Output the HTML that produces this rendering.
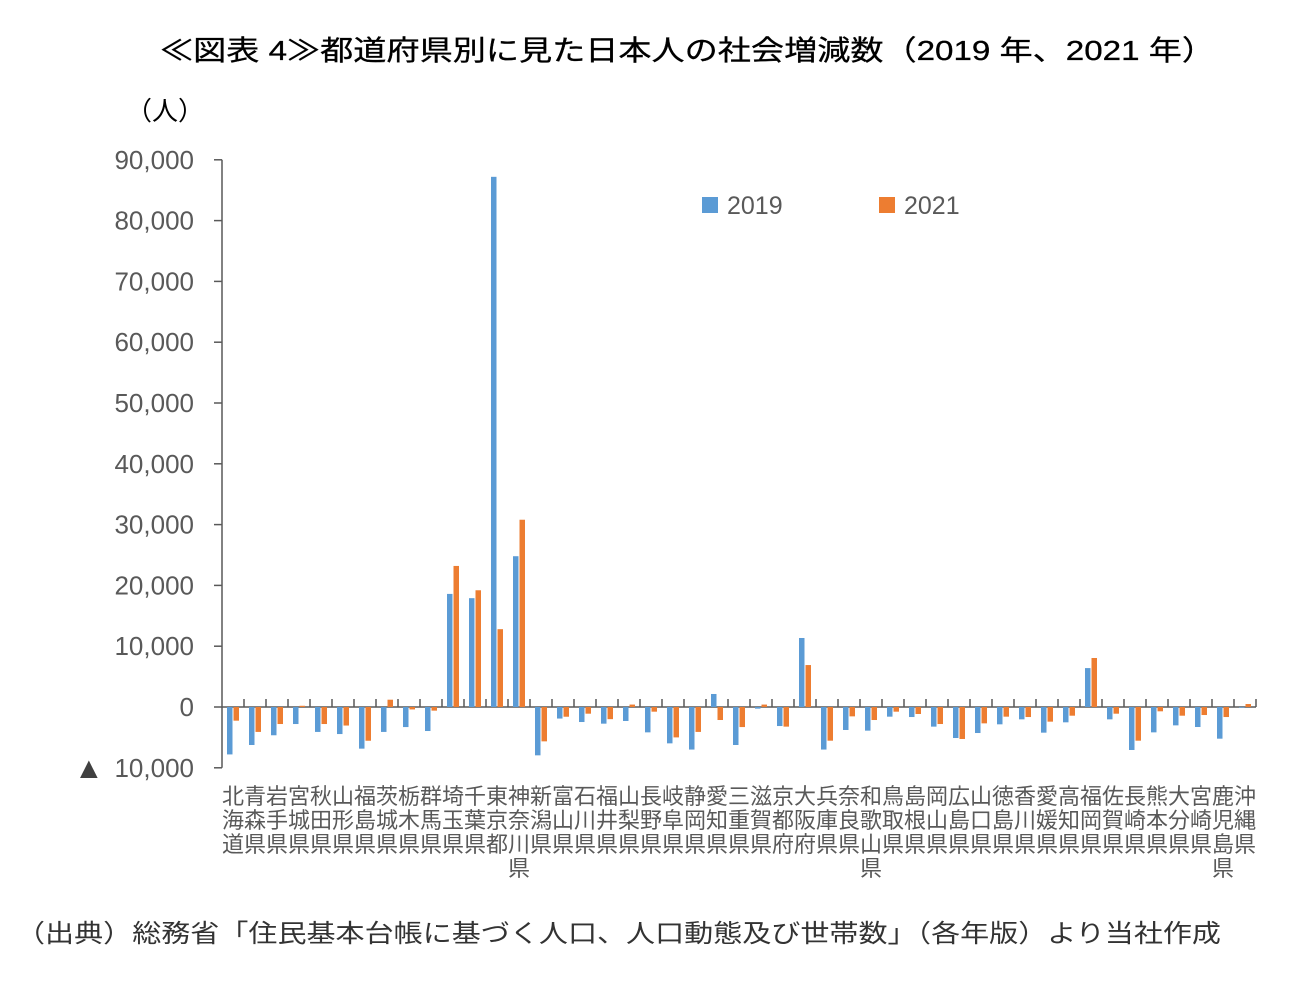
<!DOCTYPE html>
<html><head><meta charset="utf-8"><style>
body{margin:0;background:#fff;width:1296px;height:1002px;overflow:hidden}
svg{display:block;font-family:"Liberation Sans","Noto Sans CJK JP",sans-serif}
</style></head><body>
<svg id="chart" width="1296" height="1002" viewBox="0 0 1296 1002">
<text x="160" y="60" font-size="28" fill="#000" stroke="#000" stroke-width="0.3" textLength="1055" lengthAdjust="spacingAndGlyphs">≪図表 4≫都道府県別に見た日本人の社会増減数（2019 年、2021 年）</text>
<text x="126" y="120" font-size="26" fill="#000">（人）</text>
<g id="grid"></g>
<g id="bars"></g>
<g id="xlabels"></g>
<g>
<rect x="702" y="197" width="16" height="16" fill="#5B9BD5"/>
<text x="727" y="214" font-size="25" fill="#595959">2019</text>
<rect x="879" y="197" width="16" height="16" fill="#ED7D31"/>
<text x="904" y="214" font-size="25" fill="#595959">2021</text>
</g>
<text x="16" y="942" font-size="25" fill="#333" textLength="1205" lengthAdjust="spacingAndGlyphs">（出典）総務省「住民基本台帳に基づく人口、人口動態及び世帯数」（各年版）より当社作成</text>
</svg>
<script>
const categories=["北海道","青森県","岩手県","宮城県","秋田県","山形県","福島県","茨城県","栃木県","群馬県","埼玉県","千葉県","東京都","神奈川県","新潟県","富山県","石川県","福井県","山梨県","長野県","岐阜県","静岡県","愛知県","三重県","滋賀県","京都府","大阪府","兵庫県","奈良県","和歌山県","鳥取県","島根県","岡山県","広島県","山口県","徳島県","香川県","愛媛県","高知県","福岡県","佐賀県","長崎県","熊本県","大分県","宮崎県","鹿児島県","沖縄県"];
const values2019=[-7800,-6250,-4650,-2800,-4100,-4450,-6850,-4100,-3300,-3950,18600,17900,87200,24800,-7950,-1900,-2470,-2740,-2300,-4170,-5980,-7000,2140,-6250,-270,-3130,11350,-7000,-3780,-3890,-1590,-1650,-3230,-5100,-4280,-2850,-2030,-4220,-2520,6400,-2030,-7070,-4170,-3020,-3290,-5210,-110];
const values2021=[-2250,-4100,-2800,200,-2800,-3050,-5550,1200,-400,-600,23200,19200,12800,30800,-5650,-1600,-1100,-2000,400,-770,-5000,-4100,-2140,-3300,400,-3230,6900,-5540,-1540,-2140,-770,-1150,-2800,-5260,-2690,-1590,-1650,-2410,-1430,8060,-1100,-5540,-710,-1430,-1320,-1650,490];
const yTicks=[-10000,0,10000,20000,30000,40000,50000,60000,70000,80000,90000];
const yTickLabels=["10,000","0","10,000","20,000","30,000","40,000","50,000","60,000","70,000","80,000","90,000"];
const NS="http://www.w3.org/2000/svg";
const x0=222,cw=22,yZero=707,pxPer=608/100000;
function y(v){return yZero-v*pxPer;}
function x(i){return x0+i*cw;}
function mk(tag,attrs,parent){const e=document.createElementNS(NS,tag);for(const k in attrs)e.setAttribute(k,attrs[k]);parent.appendChild(e);return e;}
const grid=document.getElementById('grid'),bars=document.getElementById('bars'),xl=document.getElementById('xlabels');
const yAxis=mk('line',{x1:x0,x2:x0,y1:y(90000),y2:y(-10000),stroke:'#595959','stroke-width':1.5},grid);


yTicks.forEach((t,i)=>{
 const tk=mk('line',{x1:x0-8,x2:x0,y1:y(t),y2:y(t),stroke:'#595959','stroke-width':1.5},grid);
 
 
 const tx=mk('text',{x:194,y:y(t)+9,'font-size':26,fill:'#595959','text-anchor':'end'},grid);
 
 
 tx.textContent=yTickLabels[i];
 if(t<0){
  const tri=mk('text',{x:74,y:y(t)+10,'font-size':30,fill:'#404040'},grid);
  
  
  tri.textContent='▲';
 }
});
const xAxis=mk('line',{x1:x0,x2:x(categories.length),y1:yZero,y2:yZero,stroke:'#595959','stroke-width':1.5},grid);


for(let i=1;i<=categories.length;i++){
 const tk=mk('line',{x1:x(i),x2:x(i),y1:yZero-8,y2:yZero,stroke:'#595959','stroke-width':1.5},grid);
 
 
}
categories.forEach((c,i)=>{
 const v1=values2019[i],v2=values2021[i];
 const b1=mk('rect',{x:x(i)+5,width:5.5,y:Math.min(y(v1),yZero),height:Math.abs(y(v1)-yZero),fill:'#5B9BD5'},bars);
 
 
 const b2=mk('rect',{x:x(i)+11.5,width:5.5,y:Math.min(y(v2),yZero),height:Math.abs(y(v2)-yZero),fill:'#ED7D31'},bars);
 
 
 const t=mk('text',{x:x(i)+cw/2,'font-size':22,fill:'#595959','text-anchor':'middle'},xl);
 
 
 [...c].forEach((ch,j)=>{const s=mk('tspan',{x:x(i)+cw/2,y:804+j*24},t);s.textContent=ch;});
});
</script>
</body></html>
